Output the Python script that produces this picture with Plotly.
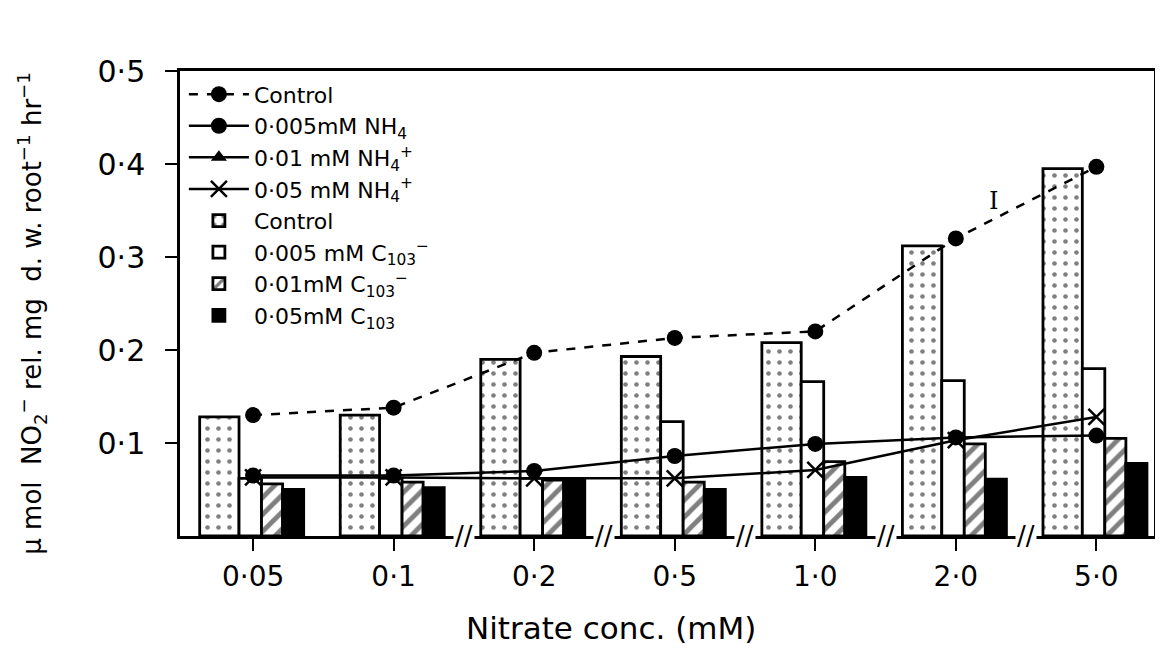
import plotly.graph_objects as go

nitrate = ["0·05", "0·1", "0·2", "0·5", "1·0", "2·0", "5·0"]

# bars: chlorate treatments
bar_control = [0.128, 0.130, 0.190, 0.193, 0.208, 0.312, 0.395]
bar_clo3_0005 = [0.062, 0.062, 0.062, 0.123, 0.166, 0.167, 0.180]
bar_clo3_001 = [0.056, 0.058, 0.060, 0.058, 0.080, 0.099, 0.105]
bar_clo3_005 = [0.050, 0.052, 0.062, 0.050, 0.063, 0.061, 0.078]

# lines: ammonium treatments (0.01 mM series is not visible in the figure)
line_control = [0.130, 0.138, 0.197, 0.213, 0.220, 0.320, 0.397]
line_nh4_0005 = [0.065, 0.065, 0.070, 0.086, 0.099, 0.106, 0.108]
line_nh4_001 = [None, None, None, None, None, None, None]
line_nh4_005 = [0.063, 0.063, 0.062, 0.062, 0.071, 0.103, 0.128]

FONT = "DejaVu Sans"
BLACK = "black"

fig = go.Figure()

fig.add_scatter(x=nitrate, y=line_control, name="Control", mode="lines+markers",
                line=dict(color=BLACK, width=2.5, dash="dash"),
                marker=dict(symbol="circle", size=16, color=BLACK))
fig.add_scatter(x=nitrate, y=line_nh4_0005, name="0·005mM NH<sub>4</sub>", mode="lines+markers",
                line=dict(color=BLACK, width=2.5),
                marker=dict(symbol="circle", size=16, color=BLACK))
fig.add_scatter(x=nitrate, y=line_nh4_001, name="0·01 mM NH<sub>4</sub><sup>+</sup>",
                mode="lines+markers", line=dict(color=BLACK, width=2.5),
                marker=dict(symbol="triangle-up", size=14, color=BLACK))
fig.add_scatter(x=nitrate, y=line_nh4_005, name="0·05 mM NH<sub>4</sub><sup>+</sup>", mode="lines+markers",
                line=dict(color=BLACK, width=2.5),
                marker=dict(symbol="x-thin-open", size=16, line=dict(color=BLACK, width=2.5)))

outline = dict(color=BLACK, width=2.8)
fig.add_bar(x=nitrate, y=bar_control, name="Control", offset=-0.38, width=0.28,
            marker=dict(color="white", line=outline,
                        pattern=dict(shape=".", fgcolor=BLACK, bgcolor="white", size=11, solidity=0.14)))
fig.add_bar(x=nitrate, y=bar_clo3_0005, name="0·005 mM C<sub>10</sub><sub>3</sub><sup>−</sup>",
            offset=-0.10, width=0.16, marker=dict(color="white", line=outline))
fig.add_bar(x=nitrate, y=bar_clo3_001, name="0·01mM C<sub>10</sub><sub>3</sub><sup>−</sup>",
            offset=0.06, width=0.15,
            marker=dict(color="white", line=outline,
                        pattern=dict(shape="/", fgcolor=BLACK, bgcolor="white", size=12, solidity=0.4)))
fig.add_bar(x=nitrate, y=bar_clo3_005, name="0·05mM C<sub>10</sub><sub>3</sub>",
            offset=0.21, width=0.15, marker=dict(color=BLACK, line=outline))

# axis break marks between the nitrate categories
for i in range(1, len(nitrate) - 1):
    fig.add_annotation(x=i + 0.5, y=0, xref="x", yref="y", text="//", showarrow=False,
                       font=dict(family=FONT, size=26, color=BLACK), bgcolor="white")

fig.add_annotation(x=0.842, y=0.755, xref="paper", yref="paper", text="I", showarrow=False,
                   font=dict(family="DejaVu Serif", size=24, color=BLACK))
fig.add_annotation(x=0.442, y=-0.198, xref="paper", yref="paper", text="Nitrate conc. (mM)",
                   showarrow=False, yanchor="middle",
                   font=dict(family=FONT, size=31, color=BLACK))
fig.add_annotation(x=-0.152, y=0.48, xref="paper", yref="paper", textangle=-90,
                   text="μ mol  NO<sub>2</sub><sup>−</sup> rel. mg  d. w. root<sup>−1</sup> hr<sup>−1</sup>",
                   showarrow=False, xanchor="center",
                   font=dict(family=FONT, size=26, color=BLACK))

fig.update_layout(
    width=1155, height=663,
    margin=dict(l=172, r=6, t=63, b=135),
    paper_bgcolor="white", plot_bgcolor="white",
    barmode="overlay",
    font=dict(family=FONT, size=22, color=BLACK),
    legend=dict(x=0.004, y=0.995, xanchor="left", yanchor="top", bgcolor="rgba(0,0,0,0)",
                font=dict(family=FONT, size=22, color=BLACK), tracegroupgap=0,
                itemwidth=60),
)
fig.update_xaxes(range=[-0.52, 6.41], showgrid=False, showline=True, linecolor=BLACK, linewidth=2.5,
                 mirror=True, ticks="outside", ticklen=12, tickwidth=2, tickcolor=BLACK,
                 ticklabelstandoff=2, tickfont=dict(family=FONT, size=28))
fig.update_yaxes(range=[0, 0.5], tickvals=[0.1, 0.2, 0.3, 0.4, 0.5],
                 ticktext=["0·1", "0·2", "0·3", "0·4", "0·5"], showgrid=False, zeroline=False,
                 showline=True, linecolor=BLACK, linewidth=2.5, mirror=True, ticks="outside",
                 ticklen=12, tickwidth=2, tickcolor=BLACK, ticklabelstandoff=14,
                 tickfont=dict(family=FONT, size=30))

fig.write_html("out.html")
